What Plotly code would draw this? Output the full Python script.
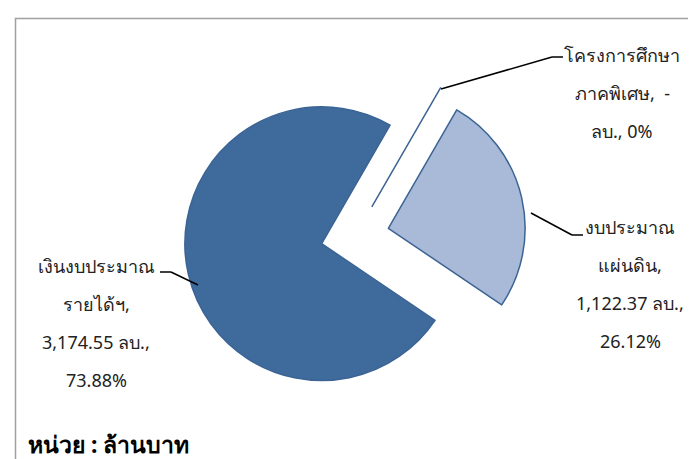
import plotly.graph_objects as go

labels = ["งบประมาณแผ่นดิน", "เงินงบประมาณรายได้ฯ", "โครงการศึกษาภาคพิเศษ"]
values = [1122.37, 3174.55, 0]
value_text = ["1,122.37", "3,174.55", "-"]
percents = ["26.12%", "73.88%", "0%"]
label_lines = [
    ["งบประมาณ", "แผ่นดิน,"],
    ["เงินงบประมาณ", "รายได้ฯ,"],
    ["โครงการศึกษา", "ภาคพิเศษ,  -"],
]
colors = ["#A9B9D8", "#3E6A9C", "#3E6A9C"]

W, H = 696, 459
FONT = "Tahoma, 'Noto Sans', 'DejaVu Sans', sans-serif"

fig = go.Figure()
fig.add_trace(go.Pie(
    labels=labels,
    values=values,
    sort=False,
    direction="clockwise",
    rotation=30,
    pull=[0.25, 0.25, 0.25],
    marker=dict(colors=colors, line=dict(color="#3B6494", width=1.5)),
    textinfo="none",
    hoverinfo="label+value+percent",
    showlegend=False,
    domain=dict(x=[176 / W, 518 / W], y=[60 / H, 402 / H]),
))

# label texts (positions in px -> paper)
label_pos = [(622, 219, 38), (88, 258, 38), (614, 47, 38)]
for i, (cx, top, step) in enumerate(label_pos):
    if i == 2:
        rows = [label_lines[i][0], label_lines[i][1], "ลบ., " + percents[i]]
    else:
        rows = label_lines[i] + [value_text[i] + " ลบ.,", percents[i]]
    for k, row in enumerate(rows):
        fig.add_annotation(
            x=cx / W, y=1 - (top + k * step) / H, xref="paper", yref="paper",
            text=row, showarrow=False, xanchor="center", yanchor="middle",
            font=dict(family=FONT, size=18, color="#222222"),
        )

# leader lines
leaders = [
    [(523, 205), (564, 227), (575, 227)],
    [(190, 277), (163, 264), (152, 264)],
    [(433, 81), (544, 49), (555, 49)],
]
for pts in leaders:
    for (x0, y0), (x1, y1) in zip(pts[:-1], pts[1:]):
        fig.add_shape(type="line", xref="paper", yref="paper",
                      x0=x0 / W, y0=1 - y0 / H, x1=x1 / W, y1=1 - y1 / H,
                      line=dict(color="black", width=1.5))

# chart frame (top and left edges visible)
fig.add_shape(type="rect", xref="paper", yref="paper",
              x0=7.5 / W, y0=-0.05, x1=1.05, y1=1 - 10.5 / H,
              line=dict(color="#A0A0A0", width=1.5))

fig.add_annotation(
    x=18 / W, y=1 - 436 / H, xref="paper", yref="paper",
    text="<b>หน่วย : ล้านบาท</b>", showarrow=False, xanchor="left", yanchor="middle",
    font=dict(family=FONT, size=23, color="black"),
)

fig.update_layout(
    width=W, height=H,
    margin=dict(l=0, r=0, t=0, b=0),
    paper_bgcolor="white",
    plot_bgcolor="white",
)

fig.write_html("out.html")
